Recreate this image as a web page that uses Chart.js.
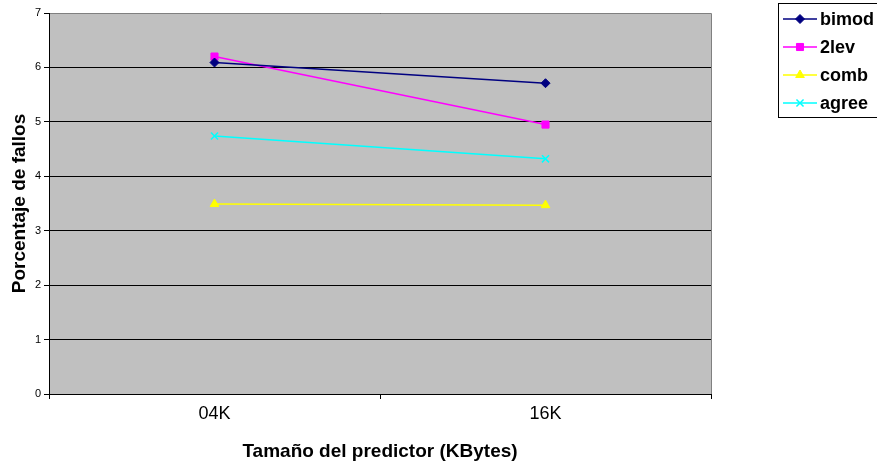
<!DOCTYPE html>
<html>
<head>
<meta charset="utf-8">
<script src="https://cdn.jsdelivr.net/npm/chart.js@4/dist/chart.umd.min.js"></script>
<style>
  html, body { margin: 0; padding: 0; background: #fff; overflow: hidden; }
  #wrap { width: 877px; height: 468px; position: relative; }
</style>
</head>
<body>
<div id="wrap"><canvas id="c" width="877" height="468"></canvas></div>
<script>
// Predictor sizes and miss percentages per branch predictor
const categories = ['04K', '16K'];
const bimod = [6.09, 5.71];
const twoLev = [6.20, 4.95];
const comb = [3.49, 3.47];
const agree = [4.74, 4.32];
const yTicks = [0, 1, 2, 3, 4, 5, 6, 7];

const FONT = '"Liberation Sans", Arial, sans-serif';

// Gray plot background with a thin frame
const plotBackground = {
  id: 'plotBackground',
  beforeDraw(chart) {
    const { ctx, chartArea: a } = chart;
    ctx.save();
    ctx.fillStyle = '#c0c0c0';
    ctx.fillRect(a.left, a.top, a.right - a.left, a.bottom - a.top);
    ctx.restore();
  },
  afterDatasetsDraw(chart) {
    const { ctx, chartArea: a } = chart;
    ctx.save();
    ctx.strokeStyle = '#808080';
    ctx.lineWidth = 1;
    ctx.beginPath();
    ctx.moveTo(a.left, Math.round(a.top) + 0.5);
    ctx.lineTo(Math.round(a.right) + 0.5, Math.round(a.top) + 0.5);
    ctx.lineTo(Math.round(a.right) + 0.5, a.bottom);
    ctx.stroke();
    ctx.strokeStyle = '#000';
    ctx.beginPath();
    ctx.moveTo(Math.round(a.left) + 0.5, a.top);
    ctx.lineTo(Math.round(a.left) + 0.5, Math.round(a.bottom) + 0.5);
    ctx.lineTo(a.right + 1, Math.round(a.bottom) + 0.5);
    ctx.stroke();
    ctx.restore();
  }
};

// Boxed legend in the upper right corner
const boxedLegend = {
  id: 'boxedLegend',
  afterDraw(chart) {
    const { ctx } = chart;
    const x0 = 778, y0 = 3, w = 120, h = 114;
    ctx.save();
    ctx.fillStyle = '#fff';
    ctx.fillRect(x0, y0, w, h);
    ctx.strokeStyle = '#000';
    ctx.lineWidth = 1;
    ctx.strokeRect(x0 + 0.5, y0 + 0.5, w, h);
    const rows = [19, 47, 75, 103];
    chart.data.datasets.forEach((ds, i) => {
      const y = rows[i];
      ctx.strokeStyle = ds.borderColor;
      ctx.lineWidth = 1.5;
      ctx.beginPath();
      ctx.moveTo(783, y);
      ctx.lineTo(817, y);
      ctx.stroke();
      ctx.fillStyle = ds.borderColor;
      ctx.strokeStyle = ds.borderColor;
      ctx.lineWidth = ds.pointBorderWidth;
      Chart.helpers.drawPoint(ctx, {
        pointStyle: ds.pointStyle,
        radius: ds.pointRadius,
        rotation: 0,
        borderWidth: ds.pointBorderWidth
      }, 800, y);
      ctx.fillStyle = '#000';
      ctx.font = 'bold 18px ' + FONT;
      ctx.textBaseline = 'middle';
      ctx.textAlign = 'left';
      ctx.fillText(ds.label, 820, y + 1);
    });
    ctx.restore();
  }
};

function series(label, data, color, style, radius) {
  return {
    label, data,
    borderColor: color,
    backgroundColor: color,
    pointBackgroundColor: color,
    pointBorderColor: color,
    pointStyle: style,
    pointRadius: radius,
    pointBorderWidth: style === 'crossRot' ? 1.5 : 1,
    borderWidth: 1.5,
    tension: 0,
    fill: false
  };
}

new Chart(document.getElementById('c'), {
  type: 'line',
  data: {
    labels: categories,
    datasets: [
      series('bimod', bimod, '#000080', 'rectRot', 4.5),
      series('2lev', twoLev, '#ff00ff', 'rect', 5),
      series('comb', comb, '#ffff00', 'triangle', 5),
      series('agree', agree, '#00ffff', 'crossRot', 5)
    ]
  },
  options: {
    responsive: false,
    animation: false,
    devicePixelRatio: 1,
    layout: { padding: { left: 0, right: 166, top: 13, bottom: 0 } },
    plugins: { legend: { display: false }, tooltip: { enabled: false } },
    scales: {
      x: {
        type: 'category',
        offset: true,
        grid: {
          offset: true,
          drawOnChartArea: false,
          drawTicks: true,
          tickLength: 5,
          color: '#000'
        },
        border: { display: false },
        ticks: { color: '#000', font: { family: FONT, size: 18 }, padding: 4 },
        title: {
          display: true,
          text: 'Tamaño del predictor (KBytes)',
          color: '#000',
          font: { family: FONT, size: 19, weight: 'bold' },
          padding: { top: 0, bottom: 5 }
        },
        afterFit(scale) { scale.height = 74; }
      },
      y: {
        min: 0,
        max: 7,
        afterBuildTicks(scale) { scale.ticks = yTicks.map(v => ({ value: v })); },
        grid: { color: '#000', tickLength: 5, drawTicks: true },
        border: { display: false },
        ticks: { color: '#000', font: { family: FONT, size: 11 }, padding: 3 },
        title: {
          display: true,
          text: 'Porcentaje de fallos',
          color: '#000',
          font: { family: FONT, size: 19, weight: 'bold' },
          padding: { top: 8, bottom: 0 }
        },
        afterFit(scale) { scale.width = 49; }
      }
    }
  },
  plugins: [plotBackground, boxedLegend]
});
</script>
</body>
</html>
